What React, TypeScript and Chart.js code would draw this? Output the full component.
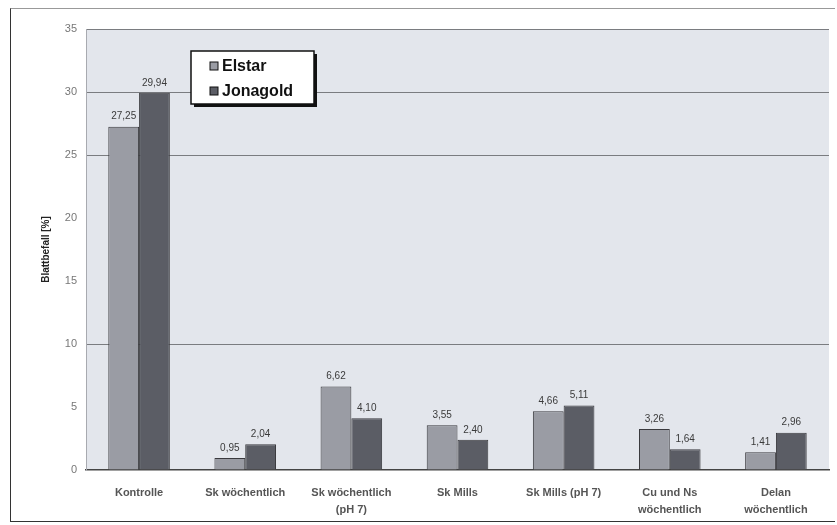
import React, { useEffect, useRef } from "react";
import { Chart, registerables } from "chart.js";

Chart.register(...registerables);

const categories: (string | string[])[] = [
  "Kontrolle",
  "Sk wöchentlich",
  ["Sk wöchentlich", "(pH 7)"],
  "Sk Mills",
  "Sk Mills (pH 7)",
  ["Cu und Ns", "wöchentlich"],
  ["Delan", "wöchentlich"],
];
const elstar = [27.25, 0.95, 6.62, 3.55, 4.66, 3.26, 1.41];
const jonagold = [29.94, 2.04, 4.1, 2.4, 5.11, 1.64, 2.96];
const seriesNames = ["Elstar", "Jonagold"];
const yTitle = "Blattbefall [%]";
const yMin = 0;
const yMax = 35;
const yStep = 5;
const visibleGrid = [10, 25, 30, 35];

const fmt = (v: number) => v.toFixed(2).replace(".", ",");

const bgPlugin = {
  id: "plotBg",
  beforeDraw(chart: any) {
    const { ctx, chartArea } = chart;
    ctx.save();
    ctx.fillStyle = "#e3e6ec";
    ctx.fillRect(chartArea.left, chartArea.top, chartArea.right - chartArea.left, chartArea.bottom - chartArea.top);
    ctx.restore();
  },
};

const valueLabels = {
  id: "valueLabels",
  afterDatasetsDraw(chart: any) {
    const { ctx } = chart;
    ctx.save();
    ctx.font = "10px Arial, 'Liberation Sans', sans-serif";
    ctx.fillStyle = "#3a3a3a";
    ctx.textAlign = "center";
    ctx.textBaseline = "bottom";
    chart.data.datasets.forEach((ds: any, i: number) => {
      const meta = chart.getDatasetMeta(i);
      meta.data.forEach((el: any, j: number) => {
        ctx.fillText(fmt(ds.data[j]), el.x, el.y - 5);
      });
    });
    ctx.restore();
  },
};

const boxLegend = {
  id: "boxLegend",
  afterDraw(chart: any) {
    const { ctx, chartArea } = chart;
    const x = chartArea.left + 105;
    const y = chartArea.top + 22;
    const w = 123;
    const h = 53;
    ctx.save();
    ctx.fillStyle = "#111";
    ctx.fillRect(x + 3, y + 3, w, h);
    ctx.fillStyle = "#ffffff";
    ctx.fillRect(x, y, w, h);
    ctx.strokeStyle = "#111";
    ctx.lineWidth = 1.5;
    ctx.strokeRect(x, y, w, h);
    ctx.font = "bold 16px Arial, 'Liberation Sans', sans-serif";
    ctx.textBaseline = "middle";
    ctx.textAlign = "left";
    chart.data.datasets.forEach((ds: any, i: number) => {
      const cy = y + 15 + i * 25;
      ctx.fillStyle = ds.backgroundColor;
      ctx.fillRect(x + 19, cy - 4, 8, 8);
      ctx.strokeStyle = "#111";
      ctx.lineWidth = 1;
      ctx.strokeRect(x + 19, cy - 4, 8, 8);
      ctx.fillStyle = "#111";
      ctx.fillText(ds.label, x + 31, cy + 1);
    });
    ctx.restore();
  },
};

export default function App() {
  const ref = useRef<HTMLCanvasElement | null>(null);
  useEffect(() => {
    if (!ref.current) return;
    const chart = new Chart(ref.current, {
      type: "bar",
      data: {
        labels: categories,
        datasets: [
          {
            label: seriesNames[0],
            data: elstar,
            backgroundColor: "#9a9ca4",
            borderColor: "#3a3a3e",
            borderWidth: 1,
            categoryPercentage: 0.58,
            barPercentage: 1,
          },
          {
            label: seriesNames[1],
            data: jonagold,
            backgroundColor: "#5b5d65",
            borderColor: "#3a3a3e",
            borderWidth: 1,
            categoryPercentage: 0.58,
            barPercentage: 1,
          },
        ],
      },
      options: {
        animation: false,
        responsive: false,
        maintainAspectRatio: false,
        layout: { padding: { left: 0, right: 5, top: 20, bottom: 0 } },
        plugins: {
          legend: { display: false },
          tooltip: { enabled: false },
        },
        scales: {
          x: {
            grid: { display: false, drawTicks: false },
            border: { color: "#444", width: 1.5 },
            ticks: {
              color: "#555",
              font: { family: "Arial, 'Liberation Sans', sans-serif", size: 11, weight: "bold", lineHeight: 1.6 },
              padding: 14,
              maxRotation: 0,
              autoSkip: false,
            },
            afterFit(scale: any) {
              scale.height = 50;
            },
          },
          y: {
            min: yMin,
            max: yMax,
            ticks: {
              stepSize: yStep,
              color: "#777",
              font: { family: "Arial, 'Liberation Sans', sans-serif", size: 11 },
              padding: 9,
            },
            grid: {
              drawTicks: false,
              color: (c: any) =>
                c.tick && visibleGrid.includes(c.tick.value) ? "#7a7c80" : "rgba(0,0,0,0)",
              lineWidth: 1,
            },
            border: { color: "#a8aab0", width: 1 },
            title: {
              display: true,
              text: yTitle,
              color: "#222",
              font: { family: "Arial, 'Liberation Sans', sans-serif", size: 10, weight: "bold" },
              padding: { top: 29, bottom: 0 },
            },
            afterFit(scale: any) {
              scale.width = 75;
            },
          },
        },
      },
      plugins: [bgPlugin, valueLabels, boxLegend],
    } as any);
    return () => chart.destroy();
  }, []);
  return (
    <div
      style={{
        position: "fixed",
        left: 10,
        top: 8,
        width: 825,
        height: 514,
        borderLeft: "1.5px solid #333",
        borderTop: "1px solid #999",
        borderBottom: "1.5px solid #333",
        boxSizing: "border-box",
        background: "#fff",
      }}
    >
      <canvas ref={ref} width={823} height={511} style={{ display: "block" }} />
    </div>
  );
}
